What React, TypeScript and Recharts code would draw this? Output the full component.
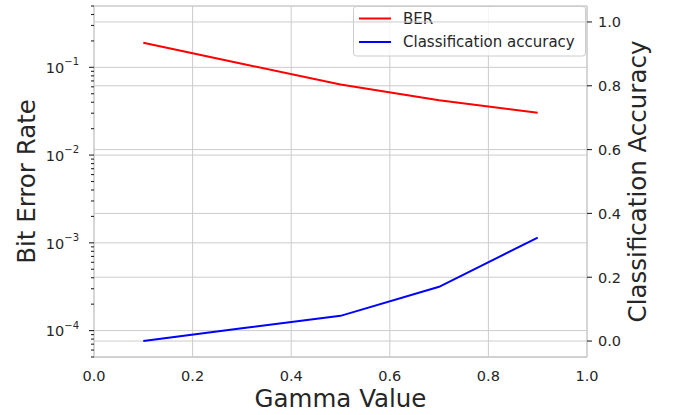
import React from 'react';
import * as R from 'recharts';
import {
  CartesianGrid,
  ComposedChart,
  Line,
  XAxis,
  YAxis,
} from 'recharts';

const gammaValues = [0.1, 0.3, 0.5, 0.7, 0.9];
const berValues = [0.191, 0.11, 0.0636, 0.0422, 0.0303];
const accuracyValues = [0.0, 0.04, 0.079, 0.17, 0.324];

const xTicks = [0, 0.2, 0.4, 0.6, 0.8, 1.0];
const berMajorTicks = [1e-4, 1e-3, 1e-2, 1e-1];
const accuracyTicks = [0, 0.2, 0.4, 0.6, 0.8, 1.0];

const berDomain = [5e-5, 0.5];
const berMinorTicks = [1e-5, 1e-4, 1e-3, 1e-2, 1e-1]
  .flatMap((d) => [2, 3, 4, 5, 6, 7, 8, 9].map((m) => m * d))
  .filter((v) => v >= berDomain[0] * 0.999 && v <= berDomain[1] * 1.001);

const data = gammaValues.map((gamma, i) => ({
  gamma,
  ber: berValues[i],
  acc: accuracyValues[i],
}));

const TEXT = '#262626';
const GRID = '#cccccc';
const FONT = "'DejaVu Sans', sans-serif";

// newer recharts exposes its z-index layers; fall back to a plain group
const ZLayer: any = (R as any).ZIndexLayer;

const isMajor = (v: number) =>
  berMajorTicks.some((m) => Math.abs(v / m - 1) < 1e-6);

const LeftTick = (props: any) => {
  const { x, y, payload } = props;
  const major = isMajor(payload.value);
  const exp = Math.round(Math.log10(payload.value));
  return (
    <g>
      <line
        x1={x - (major ? 5 : 3)}
        x2={x}
        y1={y}
        y2={y}
        stroke={TEXT}
        strokeWidth={1.1}
      />
      {major && (
        <text
          x={x - 15}
          y={y + 5.7}
          textAnchor="end"
          fill={TEXT}
          fontSize={14.5}
          fontFamily={FONT}
        >
          10
          <tspan dy={-7.7} fontSize={10}>
            {'\u2212' + Math.abs(exp)}
          </tspan>
        </text>
      )}
    </g>
  );
};

const RightTick = (props: any) => {
  const { x, y, payload } = props;
  return (
    <g>
      <line x1={x} x2={x + 5} y1={y} y2={y} stroke={TEXT} strokeWidth={1.1} />
      <text
        x={x + 11}
        y={y + 5.3}
        textAnchor="start"
        fill={TEXT}
        fontSize={14.5}
        fontFamily={FONT}
      >
        {payload.value.toFixed(1)}
      </text>
    </g>
  );
};

const BottomTick = (props: any) => {
  const { x, y, payload } = props;
  return (
    <text
      x={x}
      y={y + 24}
      textAnchor="middle"
      fill={TEXT}
      fontSize={14.5}
      fontFamily={FONT}
    >
      {payload.value.toFixed(1)}
    </text>
  );
};

const RotatedLabel = ({ viewBox, value, side }: any) => {
  const { x, y, height } = viewBox;
  const cy = y + height / 2;
  const cx = side === 'left' ? x + 35 : x + 59;
  return (
    <text
      x={cx}
      y={cy}
      transform={`rotate(-90, ${cx}, ${cy})`}
      textAnchor="middle"
      fill={TEXT}
      fontSize={24.5}
      fontFamily={FONT}
    >
      {value}
    </text>
  );
};

const LegendContent = () => (
  <g fontFamily={FONT}>
    <rect
      x={353.5}
      y={6.5}
      width={232}
      height={49.5}
      rx={3}
      fill="#ffffff"
      fillOpacity={0.8}
      stroke={GRID}
      strokeWidth={1}
    />
    <line x1={359} x2={391} y1={18.5} y2={18.5} stroke="#ff0000" strokeWidth={2} />
    <text x={403} y={23.8} fill={TEXT} fontSize={15}>
      BER
    </text>
    <line x1={359} x2={391} y1={42} y2={42} stroke="#0000ff" strokeWidth={2} />
    <text x={403} y={47.3} fill={TEXT} fontSize={15}>
      Classification accuracy
    </text>
  </g>
);

const LegendBox = () =>
  ZLayer ? (
    <ZLayer zIndex={-50}>
      <LegendContent />
    </ZLayer>
  ) : (
    <LegendContent />
  );

export default function App() {
  return (
    <div style={{ width: 677, height: 415, background: '#fff' }}>
      <style>{'body{margin:0}'}</style>
      <ComposedChart
        width={677}
        height={415}
        data={data}
        margin={{ top: 6, right: 0, bottom: 0, left: 0 }}
        style={{ fontFamily: FONT }}
      >
        <CartesianGrid yAxisId="leftMajor" stroke={GRID} strokeWidth={1} />
        <LegendBox />
        {/* twin axis grid sits above the legend, like matplotlib's twinx */}
        <CartesianGrid
          yAxisId="right"
          vertical={false}
          stroke={GRID}
          strokeWidth={1}
          zIndex={300}
        />
        <XAxis
          dataKey="gamma"
          type="number"
          domain={[0, 1]}
          ticks={xTicks}
          interval={0}
          height={58}
          tickLine={false}
          tickSize={0}
          tickMargin={0}
          tick={<BottomTick />}
          axisLine={{ stroke: GRID, strokeWidth: 1.25 }}
          label={{
            value: 'Gamma Value',
            position: 'insideBottom',
            offset: 8,
            fontSize: 24.5,
            fill: TEXT,
            fontFamily: FONT,
          }}
        />
        <XAxis
          xAxisId="top"
          orientation="top"
          type="number"
          domain={[0, 1]}
          height={0}
          tick={false}
          tickLine={false}
          axisLine={{ stroke: GRID, strokeWidth: 1.25 }}
        />
        <YAxis
          yAxisId="left"
          scale="log"
          type="number"
          domain={berDomain}
          allowDataOverflow
          ticks={[...berMajorTicks, ...berMinorTicks]}
          interval={0}
          width={94}
          tickLine={false}
          tickSize={0}
          tickMargin={0}
          tick={<LeftTick />}
          axisLine={{ stroke: GRID, strokeWidth: 1.25 }}
          label={<RotatedLabel value="Bit Error Rate" side="left" />}
        />
        <YAxis
          yAxisId="leftMajor"
          hide
          scale="log"
          type="number"
          domain={berDomain}
          allowDataOverflow
          ticks={berMajorTicks}
          interval={0}
        />
        <YAxis
          yAxisId="right"
          orientation="right"
          type="number"
          domain={[-0.05, 1.05]}
          allowDataOverflow
          ticks={accuracyTicks}
          interval={0}
          width={90}
          tickLine={false}
          tickSize={0}
          tickMargin={0}
          tick={<RightTick />}
          axisLine={{ stroke: GRID, strokeWidth: 1.25 }}
          label={<RotatedLabel value="Classification Accuracy" side="right" />}
        />
        <Line
          yAxisId="left"
          dataKey="ber"
          type="linear"
          stroke="#ff0000"
          strokeWidth={2}
          dot={false}
          activeDot={false}
          isAnimationActive={false}
        />
        <Line
          yAxisId="right"
          dataKey="acc"
          type="linear"
          stroke="#0000ff"
          strokeWidth={2}
          dot={false}
          activeDot={false}
          isAnimationActive={false}
        />
      </ComposedChart>
    </div>
  );
}
